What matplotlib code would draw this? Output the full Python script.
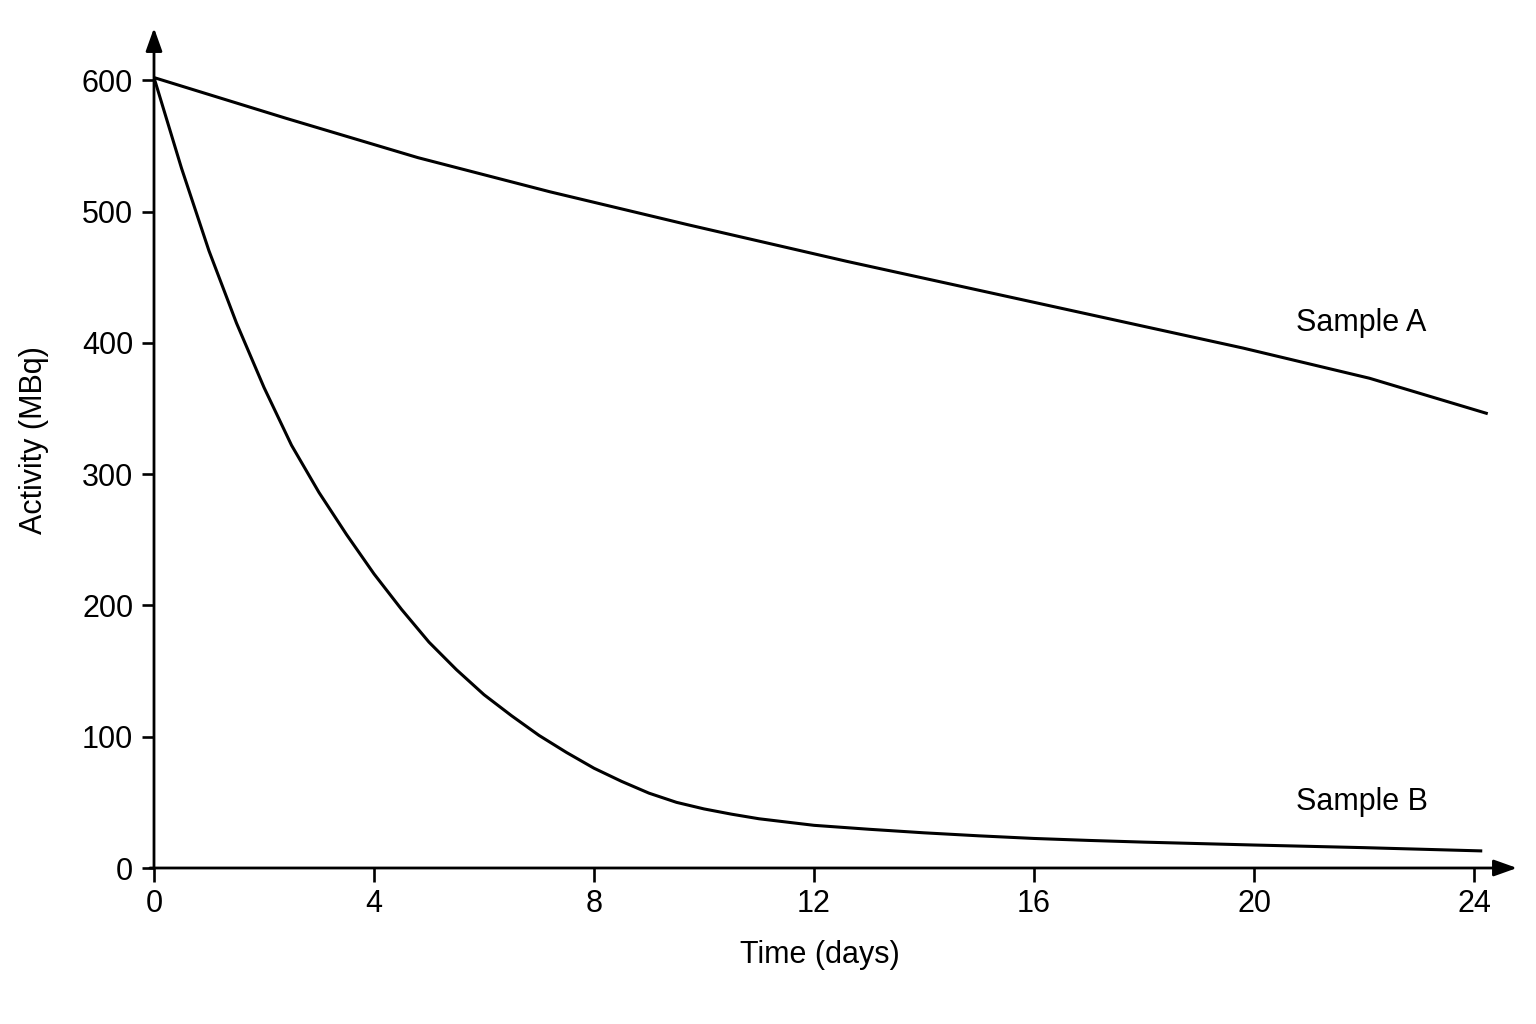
import matplotlib
matplotlib.use("Agg")
import matplotlib.pyplot as plt

# values
days_a = [0, 2.4, 4.8, 7.2, 9.7, 12.6, 15.0, 17.4, 19.8, 22.1, 24.25]
activity_a = [602, 571, 541, 515, 490, 462, 440, 418, 396, 373, 346]

days_b = [0, 0.5, 1.0, 1.5, 2.0, 2.5, 3.0, 3.5, 4.0, 4.5, 5.0, 5.5, 6.0,
          6.5, 7.0, 7.5, 8.0, 8.5, 9.0, 9.5, 10.0, 10.5, 11.0, 12.0, 13.0,
          14.0, 15.0, 16.0, 17.0, 18.0, 20.0, 22.0, 24.15]
activity_b = [602, 533, 470, 415, 366, 322, 286, 254, 224, 197, 172, 151, 132,
              116, 101, 88, 76, 66, 57, 50, 45, 41, 37.5, 32.5, 29.5,
              26.8, 24.5, 22.5, 21, 19.7, 17.5, 15.5, 13]

x_ticks = [0, 4, 8, 12, 16, 20, 24]
y_ticks = [0, 100, 200, 300, 400, 500, 600]

plt.rcParams['font.family'] = ['Liberation Sans', 'DejaVu Sans']

fig = plt.figure(figsize=(15.36, 10.24), dpi=100)
ax = fig.add_axes([154 / 1536, 1 - 868 / 1024, 1363 / 1536, 840 / 1024])

ax.plot(days_a, activity_a, color='black', lw=2.2, solid_capstyle='butt',
        solid_joinstyle='round')
ax.plot(days_b, activity_b, color='black', lw=2.2, solid_capstyle='butt',
        solid_joinstyle='round')

ax.set_xlim(0, 1363 / 55)
ax.set_ylim(0, 840 / 1.313)

for s in ax.spines.values():
    s.set_visible(False)

# axes drawn as arrows
arrow = dict(arrowstyle='-|>,head_length=1.4,head_width=0.5', color='black', lw=2.0,
             shrinkA=0, shrinkB=0)
ax.annotate('', xy=(1, 0), xytext=(-0.003, 0), xycoords='axes fraction',
            arrowprops=arrow, annotation_clip=False)
ax.annotate('', xy=(0, 1), xytext=(0, 0), xycoords='axes fraction',
            arrowprops=arrow, annotation_clip=False)

ax.set_xticks(x_ticks)
ax.set_yticks(y_ticks)
ax.tick_params(axis='both', labelsize=22, width=1.9, color='black')
ax.tick_params(axis='x', length=10, pad=5)
ax.tick_params(axis='y', length=9, pad=6)

ax.set_xlabel('Time (days)', fontsize=22)
ax.set_ylabel('Activity (MBq)', fontsize=22)
ax.xaxis.set_label_coords(0.4886, -0.086)
ax.yaxis.set_label_coords(-0.077, 0.51)

ax.text(21.95, 415, 'Sample A', fontsize=22, ha='center', va='center')
ax.text(21.96, 50, 'Sample B', fontsize=22, ha='center', va='center')

fig.savefig('out.png', dpi=100, facecolor='white')
